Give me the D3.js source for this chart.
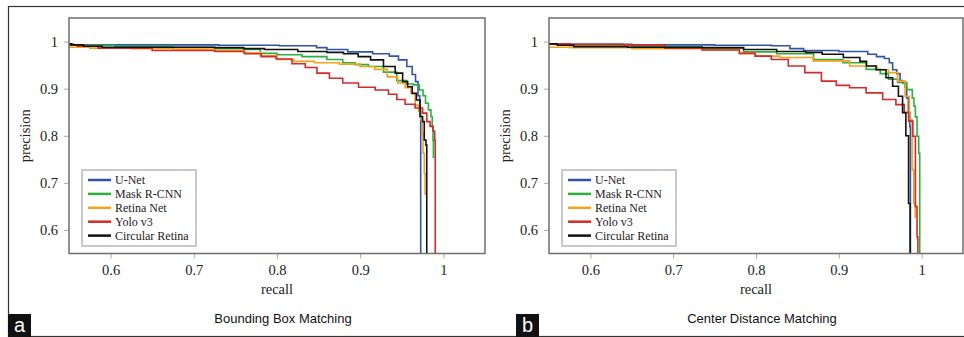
<!DOCTYPE html>
<html>
<head>
<meta charset="utf-8">
<script src="https://cdn.jsdelivr.net/npm/d3@7"></script>
<style>
  html, body { margin: 0; padding: 0; background: #fff; }
  svg { display: block; }
</style>
</head>
<body>
<svg id="chart" width="964" height="337"></svg>
<script>
// ---------- data ----------
const seriesNames = ["U-Net", "Mask R-CNN", "Retina Net", "Yolo v3", "Circular Retina"];
const xTicks = [0.6, 0.7, 0.8, 0.9, 1];
const yTicks = [0.6, 0.7, 0.8, 0.9, 1];
const panelTitles = ["Bounding Box Matching", "Center Distance Matching"];
const panelLetters = ["a", "b"];

// Bounding Box Matching: [recall, precision]
const unetBB = [[0.55,0.995],[0.56,0.993],[0.70,0.993],[0.76,0.992],[0.845,0.991],[0.85,0.987],[0.87,0.983],[0.90,0.978],[0.93,0.974],[0.94,0.969],[0.952,0.961],[0.96,0.947],[0.965,0.93],[0.968,0.915],[0.971,0.885],[0.972,0.862],[0.9727,0.84],[0.9727,0.55]];
const maskBB = [[0.55,0.995],[0.56,0.992],[0.65,0.99],[0.70,0.988],[0.75,0.985],[0.77,0.983],[0.79,0.975],[0.81,0.972],[0.85,0.968],[0.87,0.962],[0.888,0.955],[0.90,0.951],[0.92,0.947],[0.936,0.935],[0.952,0.917],[0.96,0.91],[0.968,0.908],[0.974,0.897],[0.977,0.885],[0.98,0.869],[0.984,0.855],[0.986,0.841],[0.987,0.82],[0.988,0.79],[0.988,0.752]];
const retinaBB = [[0.55,0.988],[0.60,0.986],[0.65,0.985],[0.70,0.984],[0.75,0.981],[0.77,0.976],[0.79,0.97],[0.81,0.962],[0.83,0.958],[0.86,0.955],[0.89,0.952],[0.91,0.947],[0.925,0.941],[0.94,0.925],[0.95,0.912],[0.958,0.902],[0.964,0.89],[0.968,0.865],[0.972,0.852],[0.974,0.834],[0.975,0.805],[0.976,0.763],[0.978,0.72],[0.978,0.674]];
const yoloBB = [[0.55,0.992],[0.57,0.99],[0.60,0.986],[0.70,0.981],[0.75,0.979],[0.772,0.974],[0.79,0.968],[0.808,0.963],[0.828,0.953],[0.84,0.945],[0.856,0.933],[0.87,0.922],[0.888,0.912],[0.908,0.903],[0.928,0.897],[0.94,0.888],[0.948,0.877],[0.96,0.867],[0.972,0.859],[0.978,0.848],[0.982,0.83],[0.986,0.82],[0.989,0.81],[0.99,0.791],[0.9904,0.55]];
const circularBB = [[0.55,0.995],[0.555,0.993],[0.58,0.99],[0.60,0.988],[0.70,0.988],[0.75,0.987],[0.77,0.985],[0.80,0.983],[0.85,0.979],[0.87,0.977],[0.89,0.974],[0.905,0.968],[0.92,0.961],[0.936,0.947],[0.948,0.933],[0.954,0.915],[0.96,0.904],[0.965,0.89],[0.97,0.876],[0.974,0.841],[0.976,0.83],[0.978,0.791],[0.98,0.78],[0.98,0.55]];

// Center Distance Matching: [recall, precision]
const unetCD = [[0.55,0.995],[0.60,0.994],[0.70,0.993],[0.80,0.992],[0.837,0.991],[0.845,0.985],[0.87,0.981],[0.93,0.979],[0.94,0.973],[0.951,0.968],[0.959,0.964],[0.963,0.955],[0.967,0.94],[0.973,0.932],[0.975,0.917],[0.979,0.912],[0.981,0.903],[0.983,0.88],[0.985,0.85],[0.9865,0.82],[0.9865,0.55]];
const maskCD = [[0.55,0.995],[0.60,0.991],[0.70,0.989],[0.77,0.986],[0.80,0.978],[0.85,0.974],[0.889,0.962],[0.921,0.955],[0.945,0.941],[0.955,0.932],[0.965,0.92],[0.977,0.913],[0.9875,0.898],[0.99,0.88],[0.9915,0.863],[0.9935,0.84],[0.9955,0.799],[0.9975,0.763],[0.998,0.55]];
const retinaCD = [[0.55,0.988],[0.60,0.987],[0.70,0.985],[0.77,0.982],[0.79,0.975],[0.808,0.969],[0.849,0.966],[0.889,0.959],[0.937,0.948],[0.955,0.94],[0.965,0.934],[0.977,0.916],[0.983,0.884],[0.9875,0.834],[0.9895,0.728],[0.9915,0.656],[0.993,0.627]];
const yoloCD = [[0.55,0.995],[0.60,0.994],[0.68,0.993],[0.70,0.986],[0.77,0.982],[0.79,0.975],[0.808,0.969],[0.829,0.962],[0.849,0.948],[0.869,0.934],[0.889,0.916],[0.905,0.907],[0.921,0.902],[0.945,0.891],[0.961,0.877],[0.977,0.866],[0.981,0.849],[0.9875,0.831],[0.9915,0.799],[0.9935,0.65],[0.9955,0.585],[0.9955,0.55]];
const circularCD = [[0.55,0.995],[0.57,0.992],[0.59,0.989],[0.70,0.988],[0.77,0.987],[0.80,0.983],[0.85,0.979],[0.87,0.977],[0.89,0.973],[0.921,0.966],[0.93,0.958],[0.937,0.948],[0.953,0.94],[0.961,0.923],[0.969,0.905],[0.975,0.884],[0.979,0.849],[0.983,0.8],[0.9855,0.656],[0.9868,0.55]];

const colors = ["#2f53aa", "#2fae3f", "#f5a11c", "#d32a2a", "#111111"];

// ---------- drawing ----------
const svg = d3.select("#chart");

// outer figure frame
svg.append("rect").attr("x", 8.5).attr("y", 6.5).attr("width", 970).attr("height", 330)
  .attr("fill", "none").attr("stroke", "#333").attr("stroke-width", 1.2);

const panels = [
  { left: 69, right: 485, data: [unetBB, maskBB, retinaBB, yoloBB, circularBB], letterX: 8 },
  { left: 549, right: 963, data: [unetCD, maskCD, retinaCD, yoloCD, circularCD], letterX: 516 }
];
const plotTop = 18, plotBottom = 253.5;

panels.forEach((p, pi) => {
  const x = d3.scaleLinear().domain([0.55, 1.05]).range([p.left, p.right]);
  const y = d3.scaleLinear().domain([0.55, 1.05]).range([plotBottom, plotTop]);
  const g = svg.append("g");

  const clipId = "clip" + pi;
  svg.append("clipPath").attr("id", clipId).append("rect")
    .attr("x", p.left).attr("y", plotTop).attr("width", p.right - p.left).attr("height", plotBottom - plotTop);

  const fmt = d => d === 1 ? "1" : d3.format(".1f")(d);
  const xAxis = g.append("g").attr("transform", `translate(0,${plotBottom})`)
    .call(d3.axisBottom(x).tickValues(xTicks).tickFormat(fmt).tickSize(5).tickPadding(6));
  const yAxis = g.append("g").attr("transform", `translate(${p.left},0)`)
    .call(d3.axisLeft(y).tickValues(yTicks).tickFormat(fmt).tickSize(5).tickPadding(6));
  [xAxis, yAxis].forEach(a => {
    a.select(".domain").remove();
    a.selectAll(".tick line").attr("stroke", "#aaa").attr("stroke-width", 1);
    a.selectAll(".tick text").attr("fill", "#222")
      .style("font-family", "'Liberation Serif', 'Times New Roman', serif").style("font-size", "14.5px");
  });

  // curves (stair-stepped like a precision-recall curve)
  const line = d3.line().x(d => x(d[0])).y(d => y(d[1])).curve(d3.curveStep);
  const cg = g.append("g").attr("clip-path", `url(#${clipId})`);
  p.data.forEach((s, i) => {
    cg.append("path").datum(s).attr("d", line)
      .attr("fill", "none").attr("stroke", colors[i]).attr("stroke-width", 1.6)
      .attr("stroke-linejoin", "miter");
  });

  // plot frame
  g.append("rect").attr("x", p.left).attr("y", plotTop).attr("width", p.right - p.left).attr("height", plotBottom - plotTop)
    .attr("fill", "none").attr("stroke", "#6e6e6e").attr("stroke-width", 1.5);

  // axis labels
  const serif = "'Liberation Serif', 'Times New Roman', serif";
  g.append("text").attr("x", x(0.8)).attr("y", 294).attr("text-anchor", "middle")
    .style("font-family", serif).style("font-size", "14.5px").attr("fill", "#222").text("recall");
  g.append("text").attr("transform", `translate(${p.left - 39},${(plotTop + plotBottom) / 2}) rotate(-90)`)
    .attr("text-anchor", "middle").style("font-family", serif).style("font-size", "14.5px").attr("fill", "#222")
    .text("precision");

  // legend
  const lx = p.left + 13, ly = 170;
  const lg = g.append("g");
  lg.append("rect").attr("x", lx).attr("y", ly).attr("width", 114).attr("height", 76)
    .attr("fill", "#fff").attr("stroke", "#c8c8c8").attr("stroke-width", 2);
  seriesNames.forEach((n, i) => {
    const yy = ly + 10 + i * 13.9;
    lg.append("line").attr("x1", lx + 6).attr("x2", lx + 29).attr("y1", yy).attr("y2", yy)
      .attr("stroke", colors[i]).attr("stroke-width", 2.5);
    lg.append("text").attr("x", lx + 33).attr("y", yy).attr("dy", "0.35em")
      .style("font-family", serif).style("font-size", "12px").attr("fill", "#222").text(n);
  });

  // panel title
  g.append("text").attr("x", x(0.8) + 6).attr("y", 323).attr("text-anchor", "middle")
    .style("font-family", "'Liberation Sans', Arial, sans-serif").style("font-size", "13px").attr("fill", "#111")
    .text(panelTitles[pi]);

  // panel letter
  g.append("rect").attr("x", p.letterX).attr("y", 314).attr("width", 23).attr("height", 23).attr("fill", "#111");
  g.append("text").attr("x", p.letterX + 11.5).attr("y", 332).attr("text-anchor", "middle")
    .style("font-family", "'Liberation Sans', Arial, sans-serif").style("font-size", "20px").attr("fill", "#fff")
    .text(panelLetters[pi]);
});
</script>
</body>
</html>
